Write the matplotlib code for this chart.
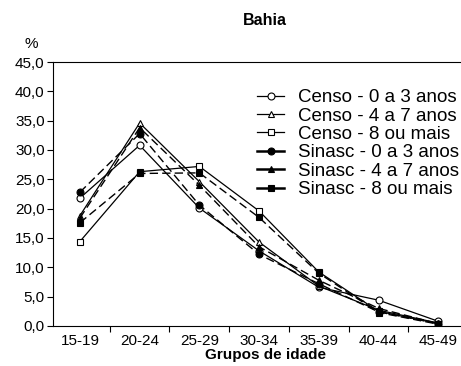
import matplotlib
matplotlib.use("Agg")
import matplotlib.pyplot as plt
from matplotlib.ticker import FixedLocator, FuncFormatter

plt.rcParams['font.family'] = ['Liberation Sans', 'DejaVu Sans']

age_groups = ["15-19", "20-24", "25-29", "30-34", "35-39", "40-44", "45-49"]

censo_0_3 = [21.8, 30.8, 20.1, 12.8, 6.6, 4.4, 0.8]
censo_4_7 = [18.8, 34.6, 24.6, 14.3, 6.8, 2.7, 0.5]
censo_8 = [14.4, 26.3, 27.2, 19.6, 9.2, 2.5, 0.4]
sinasc_0_3 = [22.8, 32.8, 20.6, 12.2, 7.2, 2.4, 0.4]
sinasc_4_7 = [18.4, 33.8, 24.0, 13.5, 7.8, 3.0, 0.4]
sinasc_8 = [17.6, 26.0, 26.1, 18.5, 9.0, 2.3, 0.3]

series = [
    ("Censo - 0 a 3 anos", censo_0_3, "o", "white", "-", 0.9),
    ("Censo - 4 a 7 anos", censo_4_7, "^", "white", "-", 0.9),
    ("Censo - 8 ou mais", censo_8, "s", "white", "-", 0.9),
    ("Sinasc - 0 a 3 anos", sinasc_0_3, "o", "black", (0, (6, 3)), 1.0),
    ("Sinasc - 4 a 7 anos", sinasc_4_7, "^", "black", (0, (6, 3)), 1.0),
    ("Sinasc - 8 ou mais", sinasc_8, "s", "black", (0, (6, 3)), 1.0),
]

fig = plt.figure(figsize=(4.61, 3.66), dpi=100)
# the plot frame runs past the right edge of the figure
ax = fig.add_axes([0.115, 0.1093, 0.92, 0.7213])

x = list(range(len(age_groups)))
handles = []
for label, vals, mk, fc, ls, lw in series:
    h, = ax.plot(x, vals, color="black", linestyle=ls, linewidth=lw,
                 marker=mk, markersize=5, markerfacecolor=fc,
                 markeredgecolor="black", markeredgewidth=0.8, label=label)
    handles.append(h)

ax.set_xlim(-0.45, 6.65)
ax.set_ylim(0, 45)

ax.set_yticks([0, 5, 10, 15, 20, 25, 30, 35, 40, 45])
ax.yaxis.set_major_formatter(FuncFormatter(lambda v, p: f"{v:.1f}".replace(".", ",")))
ax.set_xticks(x)
ax.set_xticklabels(age_groups)
ax.xaxis.set_minor_locator(FixedLocator([i + 0.5 for i in x[:-1]]))
ax.tick_params(axis="x", which="major", length=0, labelsize=11, pad=6)
ax.tick_params(axis="x", which="minor", length=4, width=0.8, direction="out")
ax.tick_params(axis="y", length=4, width=0.8, direction="out", labelsize=11, pad=2)

for s in ["left", "bottom", "top"]:
    ax.spines[s].set_linewidth(0.8)
ax.spines["right"].set_visible(False)

ax.set_xlabel("Grupos de idade", fontsize=11, fontweight="bold", labelpad=0)
fig.text(0.575, 0.945, "Bahia", ha="center", va="center", fontsize=11.5, fontweight="bold")
fig.text(0.068, 0.88, "%", ha="center", va="center", fontsize=11)

leg = ax.legend(handles=handles, loc="upper left", bbox_to_anchor=(0.558, 0.757),
                bbox_transform=fig.transFigure, frameon=False, fontsize=13.5,
                handlelength=1.45, handletextpad=0.7, labelspacing=0.07,
                borderaxespad=0, borderpad=0)
# short legend keys: draw the Sinasc keys as heavier solid strokes
for line in leg.get_lines()[3:]:
    line.set_linestyle("-")
    line.set_linewidth(1.8)

fig.savefig("out.png", dpi=100)
